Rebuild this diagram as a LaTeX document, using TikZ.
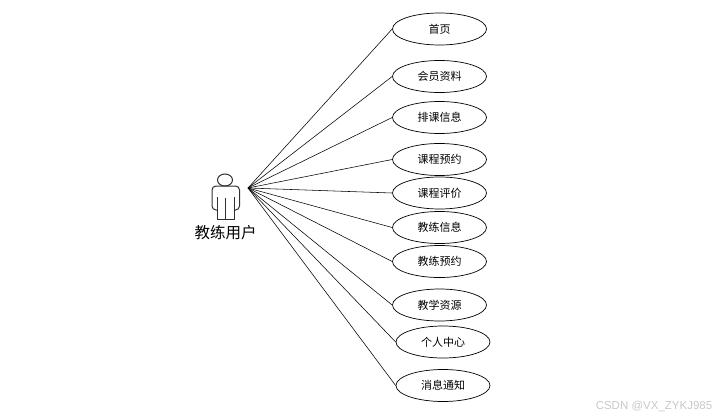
\documentclass[tikz,border=0pt]{standalone}
\usepackage{fontspec}
\usepackage{tikz}
\usetikzlibrary{shapes.geometric}
\newfontfamily\cjk{Noto Sans CJK SC}
\setsansfont{Liberation Sans}
\definecolor{actorline}{HTML}{303030}
\definecolor{markgray}{HTML}{C8C8C8}

\begin{document}
\begin{tikzpicture}[
    x=1pt, y=-1pt,
    every node/.style={font=\cjk\fontsize{11}{13}\selectfont},
    usecase/.style={
        ellipse, 
        draw=black, 
        fill=white, 
        line width=0.7pt, 
        inner sep=0pt, 
        minimum width=94pt, 
        minimum height=32pt
    },
    link/.style={draw=black, line width=0.55pt},
    actor/.style={draw=actorline, line width=1pt, rounded corners=4pt},
    actorlabel/.style={font=\cjk\fontsize{15.5}{18}\selectfont},
    watermark/.style={font=\sffamily\fontsize{11.5}{14}\selectfont, color=markgray}
]
\useasboundingbox (0,0) rectangle (728,418);

% USE CASES
\node[usecase] (home) at (439.5, 29) {首页};
\node[usecase] (member) at (439.5, 76.5) {会员资料};
\node[usecase] (schedule) at (439.5, 117.5) {排课信息};
\node[usecase] (booking) at (439.5, 159.5) {课程预约};
\node[usecase] (review) at (439.5, 193) {课程评价};
\node[usecase] (coachinfo) at (439.5, 227.5) {教练信息};
\node[usecase] (coachbook) at (439.5, 261.5) {教练预约};
\node[usecase] (resource) at (439.5, 305) {教学资源};
\node[usecase] (center) at (443, 342) {个人中心};
\node[usecase] (notice) at (443, 385.5) {消息通知};

% ACTOR
\draw[actor, fill=white] (225, 180) ellipse (7.5 and 6);
\draw[actor] (217.5, 210) -- (212, 210) -- (212, 186) -- (239.5, 186) -- (239.5, 210) -- (234.5, 210);
\draw[actor, rounded corners=0pt] (217.5, 210) -- (217.5, 197);
\draw[actor, rounded corners=0pt] (234.5, 210) -- (234.5, 197);
\draw[actor, rounded corners=0pt] (217.5, 205) -- (217.5, 219) -- (234.5, 219) -- (234.5, 205);
\draw[actor, rounded corners=0pt] (225.5, 198) -- (225.5, 219);
\node[actorlabel] (user) at (225.5, 233) {教练用户};
\coordinate (hub) at (248, 188);

% LINKS
\foreach \target in {home, member, schedule, booking, review, coachinfo, coachbook, resource, center, notice}
    \draw[link] (hub) -- (\target.west);

% WATERMARK
\node[watermark] (mark) at (654, 406) {CSDN @VX\_ZYKJ985};

\end{tikzpicture}
\end{document}
